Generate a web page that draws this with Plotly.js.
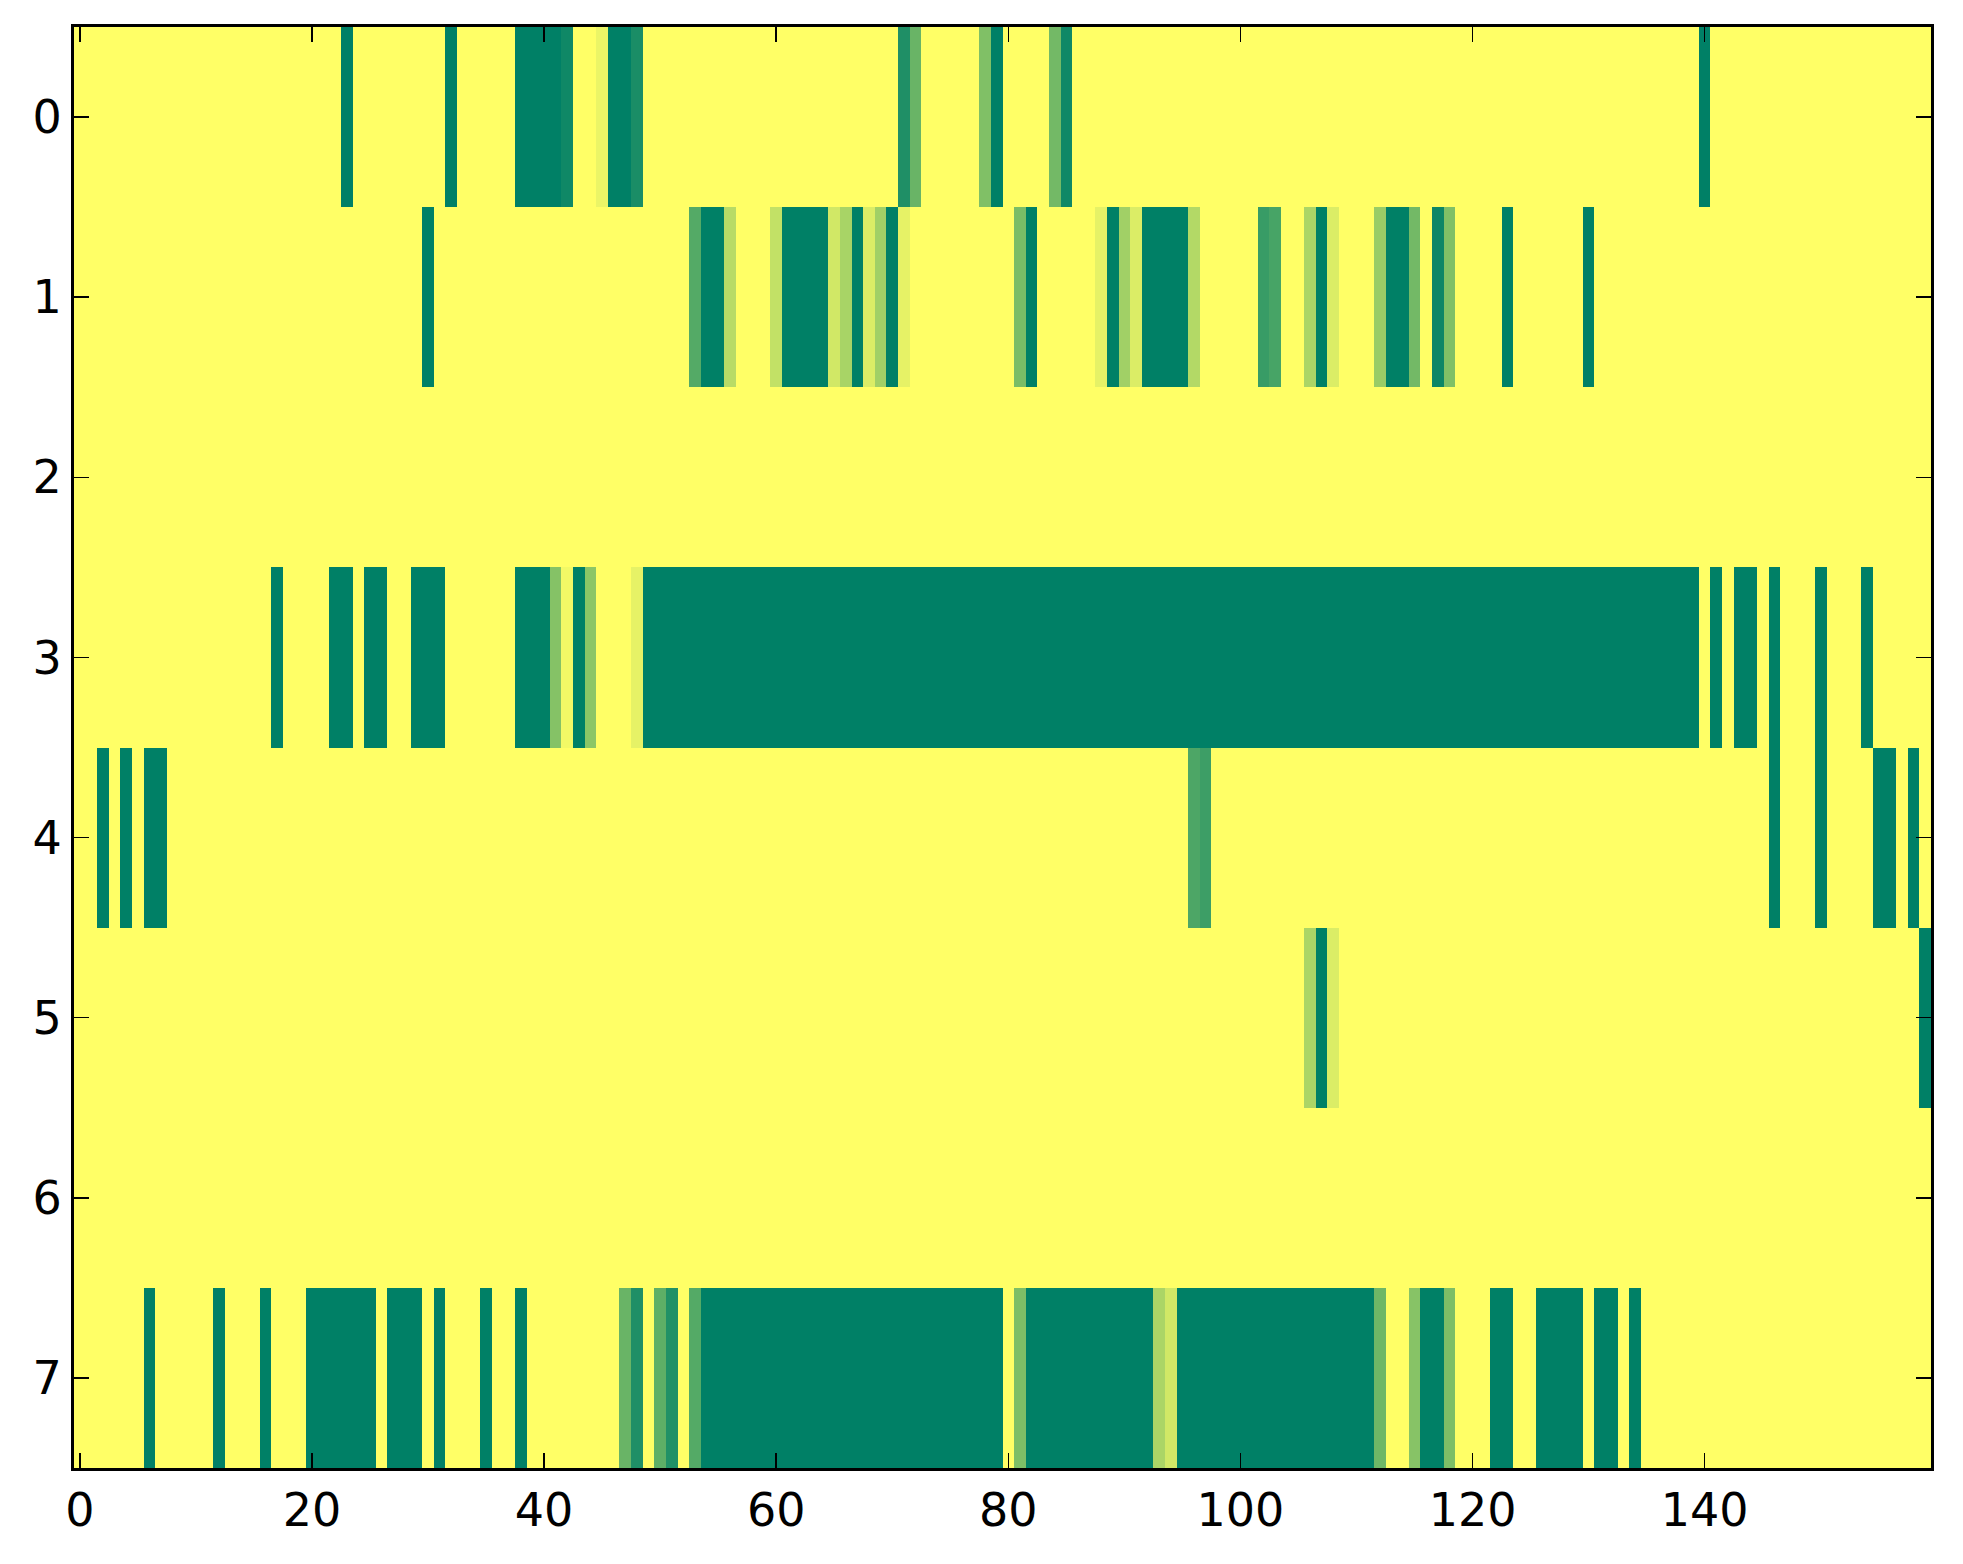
<!DOCTYPE html>
<html>
<head>
<meta charset="utf-8">
<script src="https://cdn.plot.ly/plotly-3.0.1.min.js"></script>
<style>
html,body{margin:0;padding:0;background:#fff;}
#chart{width:1963px;height:1564px;}
</style>
</head>
<body>
<div id="chart"></div>
<script>
// Column indices 0..159 and row indices 0..7
const columns = Array.from({length:160}, (_, i) => i);
const rowLabels = [0,1,2,3,4,5,6,7];
const xTickVals = [0,20,40,60,80,100,120,140];

// Cell values (summer colormap: 0 = dark green, 1 = yellow)
const row0 = [
1,1,1,1,1,1,1,1,1,1,
1,1,1,1,1,1,1,1,1,1,
1,1,1,0,1,1,1,1,1,1,
1,1,0,1,1,1,1,1,0,0,
0,0,0.06,1,1,0.92,0,0,0.1,1,
1,1,1,1,1,1,1,1,1,1,
1,1,1,1,1,1,1,1,1,1,
1,0.12,0.41,1,1,1,1,1,0.5,0,
1,1,1,1,0.45,0.06,1,1,1,1,
1,1,1,1,1,1,1,1,1,1,
1,1,1,1,1,1,1,1,1,1,
1,1,1,1,1,1,1,1,1,1,
1,1,1,1,1,1,1,1,1,1,
1,1,1,1,1,1,1,1,1,1,
0,1,1,1,1,1,1,1,1,1,
1,1,1,1,1,1,1,1,1,1
];
const row1 = [
1,1,1,1,1,1,1,1,1,1,
1,1,1,1,1,1,1,1,1,1,
1,1,1,1,1,1,1,1,1,1,
0,1,1,1,1,1,1,1,1,1,
1,1,1,1,1,1,1,1,1,1,
1,1,1,0.33,0,0,0.72,1,1,1,
0.76,0,0,0,0,0.82,0.66,0,0.86,0.63,
0,0.9,1,1,1,1,1,1,1,1,
1,0.48,0,1,1,1,1,1,0.9,0,
0.63,0.86,0,0,0,0,0.7,1,1,1,
1,1,0.22,0.28,1,1,0.67,0,0.86,1,
1,1,0.6,0,0,0.45,1,0.05,0.5,1,
1,1,1,0,1,1,1,1,1,1,
0,1,1,1,1,1,1,1,1,1,
1,1,1,1,1,1,1,1,1,1,
1,1,1,1,1,1,1,1,1,1
];
const row2 = [
1,1,1,1,1,1,1,1,1,1,
1,1,1,1,1,1,1,1,1,1,
1,1,1,1,1,1,1,1,1,1,
1,1,1,1,1,1,1,1,1,1,
1,1,1,1,1,1,1,1,1,1,
1,1,1,1,1,1,1,1,1,1,
1,1,1,1,1,1,1,1,1,1,
1,1,1,1,1,1,1,1,1,1,
1,1,1,1,1,1,1,1,1,1,
1,1,1,1,1,1,1,1,1,1,
1,1,1,1,1,1,1,1,1,1,
1,1,1,1,1,1,1,1,1,1,
1,1,1,1,1,1,1,1,1,1,
1,1,1,1,1,1,1,1,1,1,
1,1,1,1,1,1,1,1,1,1,
1,1,1,1,1,1,1,1,1,1
];
const row3 = [
1,1,1,1,1,1,1,1,1,1,
1,1,1,1,1,1,1,0,1,1,
1,1,0,0,1,0,0,1,1,0,
0,0,1,1,1,1,1,1,0,0,
0,0.52,0.95,0,0.55,1,1,1,0.9,0,
0,0,0,0,0,0,0,0,0,0,
0,0,0,0,0,0,0,0,0,0,
0,0,0,0,0,0,0,0,0,0,
0,0,0,0,0,0,0,0,0,0,
0,0,0,0,0,0,0,0,0,0,
0,0,0,0,0,0,0,0,0,0,
0,0,0,0,0,0,0,0,0,0,
0,0,0,0,0,0,0,0,0,0,
0,0,0,0,0,0,0,0,0,0,
1,0,1,0,0,1,0,1,1,1,
0,1,1,1,0,1,1,1,1,1
];
const row4 = [
1,1,0,1,0,1,0,0,1,1,
1,1,1,1,1,1,1,1,1,1,
1,1,1,1,1,1,1,1,1,1,
1,1,1,1,1,1,1,1,1,1,
1,1,1,1,1,1,1,1,1,1,
1,1,1,1,1,1,1,1,1,1,
1,1,1,1,1,1,1,1,1,1,
1,1,1,1,1,1,1,1,1,1,
1,1,1,1,1,1,1,1,1,1,
1,1,1,1,1,1,0.3,0.24,1,1,
1,1,1,1,1,1,1,1,1,1,
1,1,1,1,1,1,1,1,1,1,
1,1,1,1,1,1,1,1,1,1,
1,1,1,1,1,1,1,1,1,1,
1,1,1,1,1,1,0,1,1,1,
0,1,1,1,1,0,0,1,0,1
];
const row5 = [
1,1,1,1,1,1,1,1,1,1,
1,1,1,1,1,1,1,1,1,1,
1,1,1,1,1,1,1,1,1,1,
1,1,1,1,1,1,1,1,1,1,
1,1,1,1,1,1,1,1,1,1,
1,1,1,1,1,1,1,1,1,1,
1,1,1,1,1,1,1,1,1,1,
1,1,1,1,1,1,1,1,1,1,
1,1,1,1,1,1,1,1,1,1,
1,1,1,1,1,1,1,1,1,1,
1,1,1,1,1,1,0.67,0,0.86,1,
1,1,1,1,1,1,1,1,1,1,
1,1,1,1,1,1,1,1,1,1,
1,1,1,1,1,1,1,1,1,1,
1,1,1,1,1,1,1,1,1,1,
1,1,1,1,1,1,1,1,1,0
];
const row6 = [
1,1,1,1,1,1,1,1,1,1,
1,1,1,1,1,1,1,1,1,1,
1,1,1,1,1,1,1,1,1,1,
1,1,1,1,1,1,1,1,1,1,
1,1,1,1,1,1,1,1,1,1,
1,1,1,1,1,1,1,1,1,1,
1,1,1,1,1,1,1,1,1,1,
1,1,1,1,1,1,1,1,1,1,
1,1,1,1,1,1,1,1,1,1,
1,1,1,1,1,1,1,1,1,1,
1,1,1,1,1,1,1,1,1,1,
1,1,1,1,1,1,1,1,1,1,
1,1,1,1,1,1,1,1,1,1,
1,1,1,1,1,1,1,1,1,1,
1,1,1,1,1,1,1,1,1,1,
1,1,1,1,1,1,1,1,1,1
];
const row7 = [
1,1,1,1,1,1,0,1,1,1,
1,1,0,1,1,1,0,1,1,1,
0,0,0,0,0,0,1,0,0,0,
1,0,1,1,1,0,1,1,0,1,
1,1,1,1,1,1,1,0.41,0.12,1,
0.37,0.13,1,0.33,0,0,0,0,0,0,
0,0,0,0,0,0,0,0,0,0,
0,0,0,0,0,0,0,0,0,0,
1,0.49,0,0,0,0,0,0,0,0,
0,0,0,0.67,0.82,0,0,0,0,0,
0,0,0,0,0,0,0,0,0,0,
0,0,0.43,1,1,0.53,0,0,0.49,1,
1,1,0,0,1,1,0,0,0,0,
1,0,0,1,0,1,1,1,1,1,
1,1,1,1,1,1,1,1,1,1,
1,1,1,1,1,1,1,1,1,1
];

const zRows = [row0,row1,row2,row3,row4,row5,row6,row7];

// matplotlib "summer" colormap: (x, 0.5+0.5x, 0.4)
const summer = [[0,'rgb(0,128,102)'],[1,'rgb(255,255,102)']];

const tickFont = {family:'DejaVu Sans', size:46, color:'#000'};

const data = [{
  type:'heatmap',
  x: columns,
  y: rowLabels,
  z: zRows,
  colorscale: summer,
  zmin:0, zmax:1,
  showscale:false,
  zsmooth:false,
  hoverinfo:'x+y+z'
}];

const axisCommon = {
  showline:true, linecolor:'#000', linewidth:3, mirror:'ticks',
  ticks:'inside', ticklen:15, tickwidth:1.5, tickcolor:'#000',
  showgrid:false, zeroline:false, tickfont:tickFont
};

const layout = {
  width:1963, height:1564,
  margin:{l:74, r:32, t:27, b:96, pad:0},
  paper_bgcolor:'#fff', plot_bgcolor:'#fff',
  showlegend:false,
  xaxis: Object.assign({}, axisCommon, {
    range:[-0.5,159.5], tickmode:'array', tickvals:xTickVals,
    ticktext:xTickVals.map(String)
  }),
  yaxis: Object.assign({}, axisCommon, {
    range:[7.5,-0.5], tickmode:'array', tickvals:rowLabels,
    ticktext:rowLabels.map(String)
  })
};

Plotly.newPlot('chart', data, layout, {displayModeBar:false, staticPlot:true});
</script>
</body>
</html>
